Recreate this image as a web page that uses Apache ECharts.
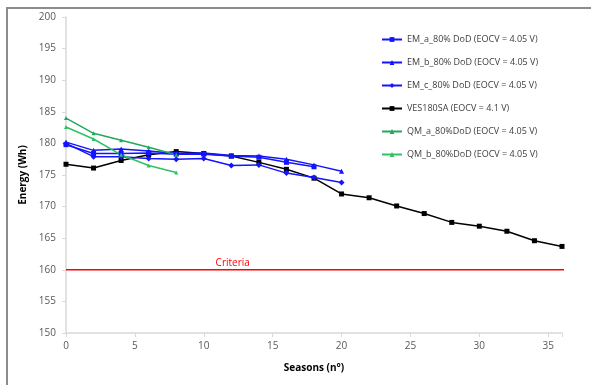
<!DOCTYPE html>
<html>
<head>
<meta charset="utf-8">
<script src="https://cdn.jsdelivr.net/npm/echarts@6/dist/echarts.min.js"></script>
<style>
  html, body { margin: 0; padding: 0; background: #fff; }
  .frame { position: absolute; left: 6px; top: 7px; width: 600px; height: 400px;
           border-top: 2px solid #8c8c8c; border-left: 2px solid #8c8c8c; }
  #chart { position: absolute; left: 0; top: 0; width: 591px; height: 385px; }
</style>
</head>
<body>
<div class="frame"></div>
<div id="chart"></div>
<script>
// seasons (x) for each series
const seasonsEM = [0, 2, 4, 6, 8, 10, 12, 14, 16, 18, 20];
const seasonsVES = [0, 2, 4, 6, 8, 10, 12, 14, 16, 18, 20, 22, 24, 26, 28, 30, 32, 34, 36];
const seasonsQM = [0, 2, 4, 6, 8];

// energy values (Wh)
const emA = [179.8, 178.4, 178.4, 178.5, 178.3, 178.3, 178.0, 177.8, 177.0, 176.3];
const emB = [180.2, 178.9, 179.1, 178.8, 178.4, 178.5, 178.1, 178.0, 177.5, 176.6, 175.6];
const emC = [180.0, 177.9, 177.9, 177.6, 177.5, 177.6, 176.5, 176.6, 175.3, 174.6, 173.8];
const ves = [176.7, 176.1, 177.3, 178.2, 178.7, 178.4, 178.0, 177.0, 175.9, 174.5,
             172.0, 171.4, 170.1, 168.9, 167.5, 166.9, 166.1, 164.6, 163.7];
const qmA = [184.0, 181.6, 180.5, 179.4, 178.2];
const qmB = [182.6, 180.7, 178.2, 176.5, 175.4];

const criteriaX = [0, 37];
const criteriaValue = 160;
const criteriaLabelX = 12.1;

const zip = (xs, ys) => ys.map((y, i) => [xs[i], y]);

const chart = echarts.init(document.getElementById('chart'));
const font = '"Open Sans", "Liberation Sans", sans-serif';

function lineSeries(name, data, color, symbol, size) {
  return {
    name: name,
    type: 'line',
    data: data,
    symbol: symbol,
    symbolSize: size,
    showAllSymbol: true,
    lineStyle: { color: color, width: 1.5 },
    itemStyle: { color: color },
    emphasis: { disabled: true },
    animation: false
  };
}

const option = {
  animation: false,
  textStyle: { fontFamily: font },
  grid: { left: 66, right: 29, top: 17, bottom: 52 },
  legend: {
    orient: 'vertical',
    left: 376,
    top: 30,
    itemWidth: 20,
    itemHeight: 6,
    itemGap: 14,
    textStyle: { fontSize: 9, color: '#404040', fontFamily: font },
    data: ['EM_a_80% DoD (EOCV = 4.05 V)', 'EM_b_80% DoD (EOCV = 4.05 V)',
           'EM_c_80% DoD (EOCV = 4.05 V)', 'VES180SA (EOCV = 4.1 V)',
           'QM_a_80%DoD (EOCV = 4.05 V)', 'QM_b_80%DoD (EOCV = 4.05 V)']
  },
  xAxis: {
    type: 'value',
    min: 0,
    max: 36,
    interval: 5,
    name: 'Seasons (n°)',
    nameLocation: 'middle',
    nameGap: 30,
    nameTextStyle: { fontWeight: 'bold', fontSize: 10, color: '#000' },
    axisLine: { lineStyle: { color: '#d9d9d9', width: 1.5 } },
    axisTick: { show: true, length: 4, lineStyle: { color: '#d9d9d9' } },
    axisLabel: { fontSize: 10, color: '#595959', margin: 8,
                 formatter: v => (v % 5 === 0 ? v : '') },
    splitLine: { show: false }
  },
  yAxis: {
    type: 'value',
    min: 150,
    max: 200,
    interval: 5,
    name: 'Energy (Wh)',
    nameLocation: 'middle',
    nameGap: 32,
    nameTextStyle: { fontWeight: 'bold', fontSize: 10, color: '#000' },
    axisLine: { show: true, lineStyle: { color: '#d9d9d9', width: 1.5 } },
    axisTick: { show: true, length: 4, lineStyle: { color: '#d9d9d9' } },
    axisLabel: { fontSize: 10, color: '#595959', margin: 10 },
    splitLine: { show: false }
  },
  series: [
    {
      name: 'Criteria',
      type: 'line',
      data: criteriaX.map(x => [x, criteriaValue]),
      symbol: 'none',
      clip: false,
      lineStyle: { color: '#ff0000', width: 1.5 },
      itemStyle: { color: '#ff0000' },
      markPoint: {
        symbol: 'circle',
        symbolSize: 0,
        data: [{ coord: [criteriaLabelX, criteriaValue] }],
        label: { show: true, position: 'top', distance: 2, formatter: 'Criteria',
                 color: '#ff0000', fontSize: 10, fontFamily: font }
      },
      animation: false
    },
    lineSeries('VES180SA (EOCV = 4.1 V)', zip(seasonsVES, ves), '#000000', 'rect', 5),
    lineSeries('EM_a_80% DoD (EOCV = 4.05 V)', zip(seasonsEM, emA), '#1414ff', 'rect', 5),
    lineSeries('EM_b_80% DoD (EOCV = 4.05 V)', zip(seasonsEM, emB), '#1414ff', 'triangle', 5),
    lineSeries('EM_c_80% DoD (EOCV = 4.05 V)', zip(seasonsEM, emC), '#1414ff', 'diamond', 6),
    lineSeries('QM_a_80%DoD (EOCV = 4.05 V)', zip(seasonsQM, qmA), '#23a95a', 'triangle', 4),
    lineSeries('QM_b_80%DoD (EOCV = 4.05 V)', zip(seasonsQM, qmB), '#2fc266', 'triangle', 4)
  ]
};

chart.setOption(option);
</script>
</body>
</html>
